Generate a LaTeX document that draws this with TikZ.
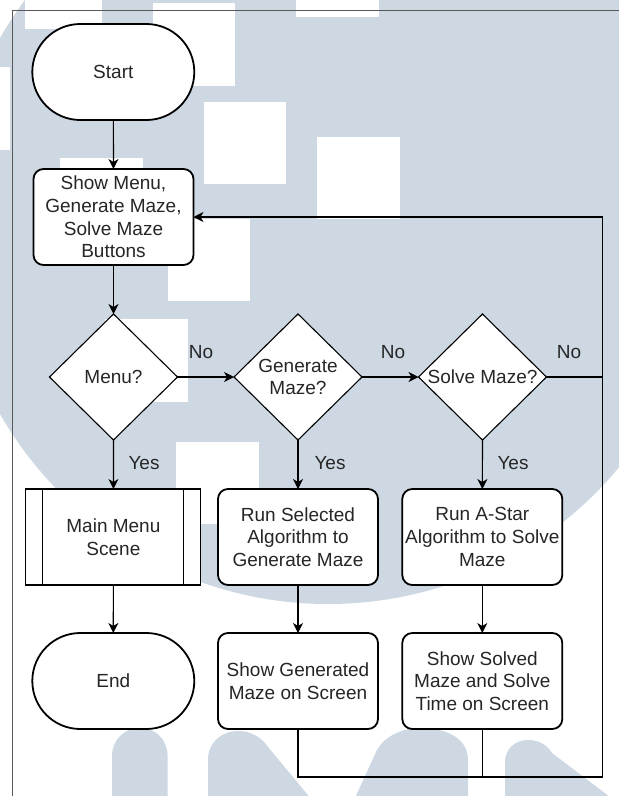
\documentclass[tikz,border=0pt]{standalone}
\usepackage{fontspec}
\setmainfont{Liberation Sans}
\usetikzlibrary{shapes.geometric,shapes.misc,arrows.meta}
\definecolor{wmblue}{RGB}{205,216,227}
\definecolor{ink}{RGB}{38,38,38}

\begin{document}
\begin{tikzpicture}[x=1pt,y=-1pt,
  every node/.style={font=\fontsize{19}{22.7}\selectfont, text=ink, inner sep=0pt, outer sep=0pt},
  term/.style={rounded rectangle, draw=black, line width=1.8pt, fill=white,
    minimum width=162pt, minimum height=96pt},
  proc/.style={rectangle, rounded corners=10pt, draw=black, line width=1.8pt, fill=white,
    minimum width=160pt, minimum height=96pt, align=center},
  subproc/.style={rectangle, draw=black, line width=1.1pt, fill=white,
    minimum width=175pt, minimum height=96pt, align=center},
  decision/.style={diamond, draw=black, line width=1.1pt, fill=white,
    minimum width=128pt, minimum height=126pt},
  flow/.style={line width=1.2pt, draw=black},
  arr/.style={flow, -{Stealth[length=10pt,width=10pt,inset=3pt]}},
  wm/.style={fill=wmblue},
  wmgap/.style={fill=white}
]
\useasboundingbox (0,0) rectangle (619,796);

% background watermark
\begin{scope}
  \clip (0,0) rectangle (619,796);
  \fill[white] (0,0) rectangle (619,796);
  \fill[wm] (328,226) circle[radius=378pt];
  \fill[wmgap] (24.5,-2) rectangle (102,29);
  \fill[wmgap] (153,3.3) rectangle (235,85.7);
  \fill[wmgap] (296,-2) rectangle (379,17);
  \fill[wmgap] (204,102) rectangle (286,184);
  \fill[wmgap] (317,137) rectangle (400,219);
  \fill[wmgap] (60,158) rectangle (143,240);
  \fill[wmgap] (168,219) rectangle (250,301);
  \fill[wmgap] (105,319) rectangle (187.5,402);
  \fill[wmgap] (175.7,441.7) rectangle (258.6,524);
  \fill[wmgap] (-10,67) rectangle (10,150);
  % letter shapes along the bottom
  \fill[wm] (112,800) -- (112,756) .. controls (112,740) and (124,728) .. (140,728)
    .. controls (156,728) and (167.6,740) .. (167.6,756) -- (167.6,800) -- cycle;
  \fill[wm] (208,800) -- (208,760) .. controls (208,742) and (222,731) .. (238,731)
    .. controls (252,731) and (262,738) .. (268,747) -- (312,800) -- cycle;
  \fill[wm] (354,800) -- (377,750) .. controls (385,736) and (402,728) .. (421,728)
    .. controls (446,728) and (468,738) .. (468,760) -- (468,800) -- cycle;
  \fill[wm] (505,800) -- (505,762) .. controls (505,749) and (515,740) .. (528,740)
    .. controls (539,740) and (547,745) .. (552,753) -- (614,800) -- cycle;
\end{scope}

% page frame
\draw[line width=1pt, black!65] (12.5,800) -- (12.5,10) -- (625,10);

% nodes
\node[term] (start) at (113.3,72) {Start};
\node[proc] (menu) at (113.5,217) {Show Menu,\\Generate Maze,\\Solve Maze\\Buttons};
\node[decision, label={[name=q1t]center:Menu?}] (q1) at (113.5,377) {};
\node[decision, label={[name=q2t, align=center]center:{Generate\\Maze?}}] (q2) at (298,377) {};
\node[decision, label={[name=q3t]center:Solve Maze?}] (q3) at (482.5,377) {};
\node[subproc] (mms) at (113.4,537) {Main Menu\\Scene};
\node[proc] (gen) at (298,537) {Run Selected\\Algorithm to\\Generate Maze};
\node[proc] (solve) at (482.3,537) {Run A-Star\\Algorithm to Solve\\Maze};
\node[term] (end) at (113.3,681) {End};
\node[proc] (showgen) at (298,681) {Show Generated\\Maze on Screen};
\node[proc] (showsol) at (482.3,681) {Show Solved\\Maze and Solve\\Time on Screen};

% side bars of the predefined process
\draw[line width=1.1pt] ([xshift=17pt]mms.north west) -- ([xshift=17pt]mms.south west);
\draw[line width=1.1pt] ([xshift=-17pt]mms.north east) -- ([xshift=-17pt]mms.south east);

% loop-back route
\coordinate (cR) at (602.5,377);
\coordinate (cTop) at (602.5,217);
\coordinate (cBR) at (602.5,777);

% connectors
\draw[arr] (start) -- (menu);
\draw[arr] (menu) -- (q1);
\draw[arr] (q1) -- (mms);
\draw[arr] (mms) -- (end);
\draw[arr] (q1) -- (q2);
\draw[arr] (q2) -- (q3);
\draw[arr] (q2) -- (gen);
\draw[arr] (q3) -- (solve);
\draw[arr] (gen) -- (showgen);
\draw[arr] (solve) -- (showsol);
\draw[flow] (q3.east) -- (cR);
\draw[flow] (showgen.south) |- (cBR) -- (cTop);
\draw[flow] (showsol.south) -- (showsol.south |- cBR);
\draw[arr] (cTop) -- (menu.east);

% branch labels
\node (no1) at (201,352) {No};
\node (no2) at (393,352) {No};
\node (no3) at (569,352) {No};
\node (yes1) at (144,463) {Yes};
\node (yes2) at (330,463) {Yes};
\node (yes3) at (513,463) {Yes};
\end{tikzpicture}
\end{document}
